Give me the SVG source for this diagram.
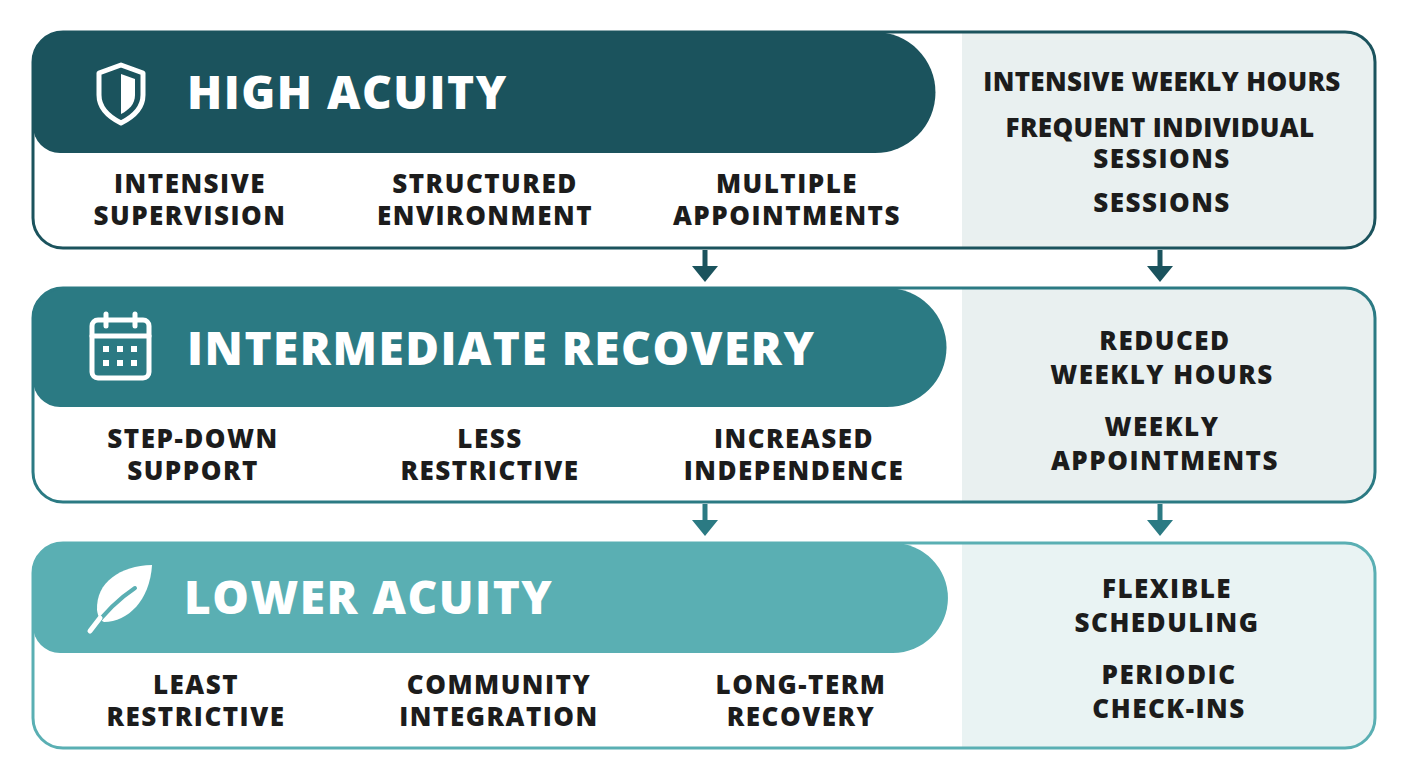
<svg xmlns="http://www.w3.org/2000/svg" width="1408" height="768" viewBox="0 0 1408 768">
<style>
.h{font-family:"Open Sans","Liberation Sans",sans-serif;font-weight:800;fill:#fff;font-size:46px;letter-spacing:1.5px}
.t{font-family:"Open Sans","Liberation Sans",sans-serif;font-weight:800;fill:#1c1c1c;font-size:26px;text-anchor:middle;letter-spacing:1.5px}
.r{letter-spacing:0.3px}
.ic{fill:none;stroke:#fff;stroke-width:5;stroke-linejoin:round;stroke-linecap:round}
</style>
<rect width="1408" height="768" fill="#fff"/>
<g id="panel1">
<rect x="33" y="32" width="1342" height="216" rx="30" fill="#fff"/>
<path d="M962,32 H1345 a30,30 0 0 1 30,30 V218 a30,30 0 0 1 -30,30 H962 Z" fill="#e9f0f0"/>
<path d="M33,62 a30,30 0 0 1 30,-30 H875 a60.5,60.5 0 0 1 0,121 H60 a27,27 0 0 1 -27,-27 Z" fill="#1b535d"/>
<rect x="33" y="32" width="1342" height="216" rx="30" fill="none" stroke="#1b535d" stroke-width="3"/>
<path class="ic" d="M121,65 L143,73 V95 C143,108 133,117 121,123 C109,117 99,108 99,95 V73 Z"/>
<path d="M121,74 L135,79 V95 C135,104 129,110 121,114 Z" fill="#fff"/>
<text class="h" x="187" y="109">HIGH ACUITY</text>
<text class="t" x="190" y="193">INTENSIVE</text><text class="t" x="190" y="225">SUPERVISION</text>
<text class="t" x="485" y="193">STRUCTURED</text><text class="t" x="485" y="225">ENVIRONMENT</text>
<text class="t" x="787" y="193">MULTIPLE</text><text class="t" x="787" y="225">APPOINTMENTS</text>
<text class="t r" x="1162" y="91">INTENSIVE WEEKLY HOURS</text>
<text class="t r" x="1160" y="137">FREQUENT INDIVIDUAL</text><text class="t" x="1162" y="168">SESSIONS</text>
<text class="t" x="1162" y="212">SESSIONS</text>
</g>
<g id="panel2">
<rect x="33" y="288" width="1342" height="214" rx="30" fill="#fff"/>
<path d="M962,288 H1345 a30,30 0 0 1 30,30 V472 a30,30 0 0 1 -30,30 H962 Z" fill="#e9f0f0"/>
<path d="M33,318 a30,30 0 0 1 30,-30 H887 a59.5,59.5 0 0 1 0,119 H60 a27,27 0 0 1 -27,-27 Z" fill="#2b7a83"/>
<rect x="33" y="288" width="1342" height="214" rx="30" fill="none" stroke="#2b7a83" stroke-width="3"/>
<rect class="ic" x="92" y="320" width="57" height="58" rx="6"/>
<line class="ic" x1="92" y1="336" x2="149" y2="336"/>
<line class="ic" x1="106" y1="314" x2="106" y2="326"/><line class="ic" x1="135" y1="314" x2="135" y2="326"/>
<g fill="#fff"><rect x="103" y="346" width="6" height="6"/><rect x="117" y="346" width="6" height="6"/><rect x="131" y="346" width="6" height="6"/><rect x="103" y="360" width="6" height="6"/><rect x="117" y="360" width="6" height="6"/><rect x="131" y="360" width="6" height="6"/></g>
<text class="h" x="187" y="365">INTERMEDIATE RECOVERY</text>
<text class="t" x="193" y="448">STEP-DOWN</text><text class="t" x="193" y="480">SUPPORT</text>
<text class="t" x="490" y="448">LESS</text><text class="t" x="490" y="480">RESTRICTIVE</text>
<text class="t" x="794" y="448">INCREASED</text><text class="t" x="794" y="480">INDEPENDENCE</text>
<text class="t" x="1165" y="350">REDUCED</text><text class="t" x="1162" y="384">WEEKLY HOURS</text>
<text class="t" x="1162" y="436">WEEKLY</text><text class="t" x="1165" y="470">APPOINTMENTS</text>
</g>
<g id="panel3">
<rect x="33" y="543" width="1342" height="205" rx="30" fill="#fff"/>
<path d="M962,543 H1345 a30,30 0 0 1 30,30 V718 a30,30 0 0 1 -30,30 H962 Z" fill="#e9f3f3"/>
<path d="M33,573 a30,30 0 0 1 30,-30 H893 a55,55 0 0 1 0,110 H60 a27,27 0 0 1 -27,-27 Z" fill="#5aafb3"/>
<rect x="33" y="543" width="1342" height="205" rx="30" fill="none" stroke="#5aafb3" stroke-width="3"/>
<path d="M152,565 C120,566 96,582 97,610 C98,617 100,620 104,622 C128,622 150,600 152,565 Z" fill="#fff"/>
<path d="M92,630 C105,612 120,598 135,588" stroke="#5aafb3" stroke-width="4" fill="none" stroke-linecap="round"/>
<path d="M90,631 L100,618" stroke="#fff" stroke-width="5" stroke-linecap="round"/>
<text class="h" x="184" y="614">LOWER ACUITY</text>
<text class="t" x="196" y="694">LEAST</text><text class="t" x="196" y="726">RESTRICTIVE</text>
<text class="t" x="499" y="694">COMMUNITY</text><text class="t" x="499" y="726">INTEGRATION</text>
<text class="t" x="801" y="694">LONG-TERM</text><text class="t" x="801" y="726">RECOVERY</text>
<text class="t" x="1167" y="598">FLEXIBLE</text><text class="t" x="1167" y="632">SCHEDULING</text>
<text class="t" x="1169" y="684">PERIODIC</text><text class="t" x="1169" y="718">CHECK-INS</text>
</g>
<g id="connectors">
<line x1="705" y1="250" x2="705" y2="268" stroke="#1b535d" stroke-width="5"/><path d="M692,266 H718 L705,282 Z" fill="#1b535d"/>
<line x1="1160" y1="250" x2="1160" y2="268" stroke="#1b535d" stroke-width="5"/><path d="M1147,266 H1173 L1160,282 Z" fill="#1b535d"/>
<line x1="705" y1="504" x2="705" y2="522" stroke="#2b7a83" stroke-width="5"/><path d="M692,520 H718 L705,536 Z" fill="#2b7a83"/>
<line x1="1160" y1="504" x2="1160" y2="522" stroke="#2b7a83" stroke-width="5"/><path d="M1147,520 H1173 L1160,536 Z" fill="#2b7a83"/>
</g>
</svg>
